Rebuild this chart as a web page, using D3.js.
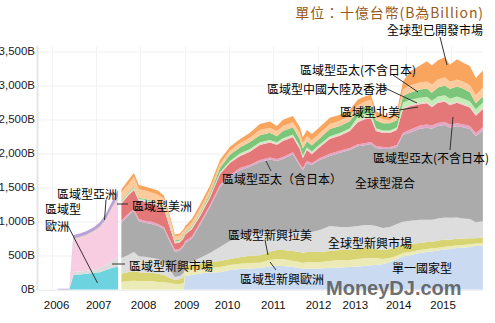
<!DOCTYPE html>
<html><head><meta charset="utf-8">
<script src="https://cdn.jsdelivr.net/npm/d3@7/dist/d3.min.js"></script>
<style>body{margin:0;background:#fff;}svg{display:block;}</style>
</head><body>
<svg id="chart" width="495" height="323"></svg>
<script>
// ---------------- DATA ----------------
const yTicks = [0, 500, 1000, 1500, 2000, 2500, 3000, 3500];
const gridYears = [2006, 2007, 2008, 2009, 2010, 2011, 2012, 2013, 2014, 2015];
const xTickLabels = ["2006","2007","2008","2009","2010","2011","2012","2013","2014","2015"];
const xTickAt = ["2006-02-10","2007-01-23","2008-01-28","2009-01-17","2009-12-20","2011-01-01","2012-01-08","2012-11-06","2013-10-30","2014-10-30"];

// 2006-2007 (old classification)
const leftDates = ["2006-02-21","2006-05-26","2006-06-29","2006-08-21","2006-10-17","2006-12-14","2007-02-02","2007-03-23","2007-05-11","2007-07-02"];
const regionEurope   = [0,0,215,220,230,245,255,285,315,340];
const regionEmerging = [0,0,45,45,45,50,60,75,105,140];
const regionAmericas = [0,0,470,490,515,550,590,645,750,840];
const regionOther    = [0,0,20,20,20,20,20,30,35,45];
const regionAsia     = [10,10,50,50,50,50,65,75,80,105];

// 2007-2015
const rightDates = ["2007-07-29","2007-09-20","2007-11-09","2007-12-20","2008-02-07","2008-04-03","2008-05-25","2008-07-14","2008-09-01","2008-10-12","2008-11-22","2008-12-25","2009-01-03","2009-03-01","2009-05-06","2009-07-27","2009-10-18","2010-01-08","2010-03-31","2010-06-22","2010-09-12","2010-12-03","2011-01-30","2011-03-21","2011-06-11","2011-08-07","2011-09-01","2011-10-04","2011-11-14","2012-01-19","2012-04-10","2012-07-02","2012-09-22","2012-11-27","2013-01-24","2013-03-15","2013-04-25","2013-06-22","2013-08-18","2013-10-15","2013-12-04","2014-01-30","2014-04-22","2014-06-19","2014-07-30","2014-09-18","2014-11-14","2014-12-26","2015-02-21","2015-04-11","2015-06-08","2015-07-27","2015-09-23"];
const singleCountry  = [0,0,0,0,0,0,0,0,0,0,0,0,200,215,235,250,255,285,300,310,315,340,345,345,330,315,300,310,310,310,315,325,330,340,345,355,360,370,405,450,485,505,535,550,560,575,590,595,610,615,625,640,645];
const emgEurope      = [110,125,130,125,125,125,110,110,95,80,80,95,75,75,65,65,75,75,80,80,80,95,105,105,90,90,90,95,95,95,105,110,105,110,120,110,105,80,60,45,50,45,45,45,45,40,40,40,40,40,40,35,35];
const emgLatam       = [120,130,140,130,120,120,120,105,75,60,75,90,75,75,75,90,90,90,95,105,110,120,130,130,145,145,145,145,145,145,145,145,145,145,145,145,130,130,130,130,120,120,105,105,95,105,105,95,95,95,90,80,90];
const globalEmerging = [235,250,280,235,235,220,220,190,120,45,45,60,30,45,90,130,205,265,295,325,340,295,265,280,280,295,295,295,295,325,370,340,340,340,340,340,340,325,325,340,340,340,340,325,325,325,325,325,315,295,280,235,235];
const globalMixed    = [515,575,605,515,500,500,485,485,410,370,370,395,300,340,485,675,880,940,985,985,1030,1060,1045,1060,1145,970,925,1015,985,1030,1030,1090,1130,1170,1170,1190,1145,1160,1145,1130,1280,1295,1340,1355,1340,1360,1360,1325,1340,1340,1325,1265,1330];
const apacInclJapan  = [30,30,30,30,30,30,30,30,30,30,30,30,30,30,30,30,30,30,30,30,30,30,30,30,30,30,30,30,30,30,30,30,30,30,30,30,30,30,30,30,30,45,45,45,45,45,45,45,45,45,45,45,50];
const apacExJapanB   = [250,265,280,265,280,265,265,265,175,90,90,90,95,105,95,105,160,175,175,190,220,220,205,235,220,220,145,160,130,160,220,220,250,325,355,345,220,205,205,220,345,345,315,315,270,295,295,285,300,285,270,255,270];
const otherThin      = [15,15,15,15,15,15,15,15,15,15,15,15,10,15,15,15,15,15,20,20,20,20,20,20,20,20,20,20,20,20,20,20,20,20,20,20,20,20,20,20,20,20,20,20,20,20,20,20,20,20,20,20,20];
const northAmerica   = [15,15,15,15,15,15,15,15,15,15,15,15,10,15,15,15,15,15,20,20,20,20,20,20,20,20,20,20,20,20,20,20,20,60,60,60,20,20,20,20,75,75,75,75,75,75,75,75,75,75,75,75,75];
const chinaHK        = [15,15,15,15,15,15,15,15,15,15,15,15,15,15,20,30,60,90,90,105,105,105,90,105,105,105,105,90,90,90,105,105,105,90,105,105,120,105,105,105,105,105,120,120,120,130,145,145,145,145,130,90,90];
const apacExJapan    = [120,120,145,130,120,120,120,105,90,60,60,60,45,60,60,60,60,60,60,60,75,75,75,75,75,90,75,75,75,75,75,75,75,75,75,90,60,60,45,75,90,105,105,105,120,120,120,105,105,105,105,120,130];
const globalDeveloped= [45,60,60,60,60,60,60,45,45,30,30,30,45,45,60,60,60,60,60,75,90,90,75,90,90,90,90,90,90,90,90,90,90,90,75,75,75,60,45,60,120,205,250,295,280,280,295,250,295,280,280,250,250];

const leftSeries = [
  {name:"區域型歐洲", values:regionEurope, color:"#6dd3df"},
  {name:"區域型新興市場", values:regionEmerging, color:"#dcdcdc"},
  {name:"區域型美洲", values:regionAmericas, color:"#f8cde2"},
  {name:"區域型其他", values:regionOther, color:"#e6cfc4"},
  {name:"區域型亞洲", values:regionAsia, color:"#b9a1d8"}
];
const rightSeries = [
  {name:"單一國家型", values:singleCountry, color:"#c9daf1"},
  {name:"區域型新興歐洲", values:emgEurope, color:"#ecebb8"},
  {name:"區域型新興拉美", values:emgLatam, color:"#d8d472"},
  {name:"全球型新興市場", values:globalEmerging, color:"#dddddd"},
  {name:"全球型混合", values:globalMixed, color:"#ababab"},
  {name:"區域型亞太（含日本）", values:apacInclJapan, color:"#e3a7c5"},
  {name:"區域型亞太(不含日本)", values:apacExJapanB, color:"#e47777"},
  {name:"其他", values:otherThin, color:"#f6cccc"},
  {name:"區域型北美", values:northAmerica, color:"#c4ecb6"},
  {name:"區域型中國大陸及香港", values:chinaHK, color:"#7bc67a"},
  {name:"區域型亞太(不含日本)", values:apacExJapan, color:"#fdcb9e"},
  {name:"全球型已開發市場", values:globalDeveloped, color:"#f9a55d"}
];

// annotation layout (pixels)
const annotations = [
  {t:"全球型已開發市場", x:387, y:29, line:[[440,37],[447,65]]},
  {t:"區域型亞太(不含日本)", x:300, y:69, line:[[393,75],[418,92]]},
  {t:"區域型中國大陸及香港", x:267, y:88, line:[[385,88],[417,103]]},
  {t:"區域型北美", x:340, y:111, line:[[399,110],[418,107]]},
  {t:"區域型亞太(不含日本)", x:373, y:157, line:[[453,117],[450,150]]},
  {t:"區域型亞太（含日本）", x:222, y:178, line:[[266,161],[271,171]]},
  {t:"全球型混合", x:355, y:182},
  {t:"區域型新興拉美", x:228, y:234, line:[[265,240],[268,255]]},
  {t:"全球型新興市場", x:328, y:242},
  {t:"區域型新興歐洲", x:240, y:278, line:[[270,262],[276,270]]},
  {t:"單一國家型", x:392, y:267},
  {t:"區域型亞洲", x:57, y:193, line:[[106,200],[104.5,220]]},
  {t:"區域型", x:45, y:208},
  {t:"歐洲", x:45, y:225, line:[[68,226],[97.5,283]]},
  {t:"區域型美洲", x:132, y:205, line:[[117,204],[128,204]]},
  {t:"區域型新興市場", x:129, y:265, line:[[112,264],[125,264]]}
];

// ---------------- DRAW ----------------
const parse = d3.timeParse("%Y-%m-%d");
const svg = d3.select("#chart");
const plot = {left:38, right:483, top:46, bottom:289.5};
const x = d3.scaleTime().domain([new Date(2006,0,1), new Date(2015,0,1)]).range([51.7, 450.7]);
const y = d3.scaleLinear().domain([0, 3600]).range([289.5, 44.7]);
const cjk = "'Noto Sans CJK TC','Noto Sans CJK SC',sans-serif";

// grid
svg.append("g").selectAll("line").data(yTicks).join("line")
  .attr("x1", plot.left).attr("x2", plot.right)
  .attr("y1", d=>y(d)+0.5).attr("y2", d=>y(d)+0.5)
  .attr("stroke", "#f0f0f0");
svg.append("g").selectAll("line").data(gridYears).join("line")
  .attr("x1", d=>Math.round(x(new Date(d,0,1)))+0.5).attr("x2", d=>Math.round(x(new Date(d,0,1)))+0.5)
  .attr("y1", plot.top).attr("y2", plot.bottom)
  .attr("stroke", "#f2f2f2");

function drawSection(dates, series) {
  const rows = dates.map((d,i) => {
    const r = {date: parse(d)};
    series.forEach((s,j) => r["k"+j] = s.values[i]);
    return r;
  });
  const keys = series.map((s,j)=>"k"+j);
  const stacked = d3.stack().keys(keys)(rows);
  const area = d3.area().x(d=>x(d.data.date)).y0(d=>y(d[0])).y1(d=>y(d[1]));
  svg.append("g").selectAll("path").data(stacked).join("path")
    .attr("d", area)
    .attr("fill", (d,i)=>series[i].color);
}
drawSection(leftDates, leftSeries);
drawSection(rightDates, rightSeries);

// left axis line + bottom line
svg.append("line").attr("x1",37.5).attr("x2",37.5).attr("y1",plot.top).attr("y2",plot.bottom+1)
  .attr("stroke","#e4e4e4").attr("stroke-width",2);
svg.append("line").attr("x1",plot.left).attr("x2",plot.right).attr("y1",plot.bottom+1).attr("y2",plot.bottom+1)
  .attr("stroke","#efefef").attr("stroke-width",1);

// y tick labels
svg.append("g").selectAll("text").data(yTicks).join("text")
  .attr("x", 35).attr("y", d=>y(d)-0.5)
  .attr("text-anchor","end").attr("dominant-baseline","central")
  .attr("font-family","'Liberation Sans',Arial,sans-serif").attr("font-size",11.5)
  .attr("fill","#1a1a2a")
  .text(d=>d3.format(",")(d)+"B");

// watermark
svg.append("text").attr("x",326).attr("y",295)
  .attr("font-family","'Liberation Sans',Arial,sans-serif").attr("font-weight","bold")
  .attr("font-size",20).attr("fill","#4a4a4a").attr("fill-opacity",0.8)
  .text("MoneyDJ.com");

// x tick labels
svg.append("g").selectAll("text").data(xTickLabels).join("text")
  .attr("x",(d,i)=>x(parse(xTickAt[i]))).attr("y",305)
  .attr("text-anchor","middle").attr("dominant-baseline","central")
  .attr("font-family","'Liberation Sans',Arial,sans-serif").attr("font-size",11.5)
  .attr("fill","#111")
  .text(d=>d);

// annotations
const ag = svg.append("g");
annotations.forEach(a => {
  if (a.line) ag.append("line")
    .attr("x1",a.line[0][0]).attr("y1",a.line[0][1])
    .attr("x2",a.line[1][0]).attr("y2",a.line[1][1])
    .attr("stroke","#333").attr("stroke-width",1);
  ag.append("text").attr("x",a.x).attr("y",a.y)
    .attr("dominant-baseline","central")
    .attr("font-family",cjk).attr("font-size",12).attr("fill","#000")
    .text(a.t);
});

// title
svg.append("text").attr("x",484).attr("y",11.5)
  .attr("text-anchor","end").attr("dominant-baseline","central")
  .attr("font-family",cjk).attr("font-size",14).attr("letter-spacing",0.9)
  .attr("fill","#985a1c")
  .text("單位：十億台幣(B為Billion)");
</script>
</body></html>
